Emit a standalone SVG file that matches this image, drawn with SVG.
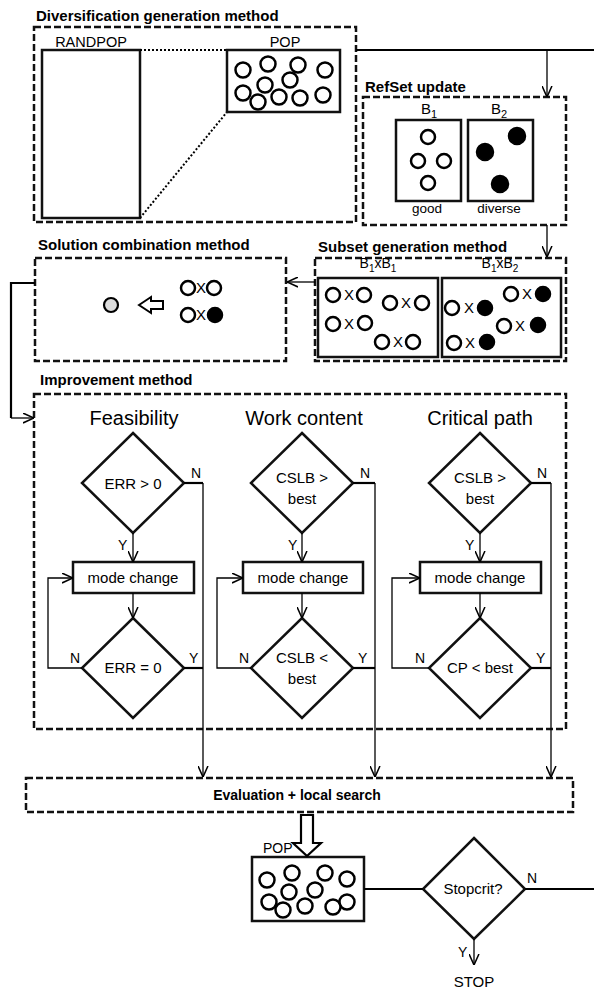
<svg xmlns="http://www.w3.org/2000/svg" width="594" height="990" viewBox="0 0 594 990">
<style>
text{font-family:"Liberation Sans",Arial,sans-serif;fill:#000}
.t{font-weight:bold;font-size:15px}
.dash{fill:none;stroke:#111;stroke-width:2.5;stroke-dasharray:7 3}
.box{fill:#fff;stroke:#111;stroke-width:2.5}
.c{fill:#fff;stroke:#000;stroke-width:2.5}
.f{fill:#000;stroke:#000;stroke-width:1.5}
.ln{fill:none;stroke:#000;stroke-width:1.3}
.lnb{fill:none;stroke:#000;stroke-width:2.2}
.arr{marker-end:url(#ah)}
.lbl{font-size:14px}
.hd{font-size:20px;text-anchor:middle}
.mid{text-anchor:middle}
</style>
<defs>
<marker id="ah" viewBox="0 0 10 10" refX="10" refY="5" markerWidth="11" markerHeight="11" markerUnits="userSpaceOnUse" orient="auto">
<path d="M0,0.5 L10,5 L0,9.5" fill="none" stroke="#000" stroke-width="1.4"/>
</marker>
</defs>

<g id="diversification">
<text class="t" x="36" y="21">Diversification generation method</text>
<rect class="dash" x="34" y="27" width="322" height="195"/>
<text x="91" y="47" font-size="14.5" class="mid">RANDPOP</text>
<rect class="box" x="42" y="50" width="98" height="168" fill="none"/>
<path d="M140,50 L227,50 M140,218 L227,112" fill="none" stroke="#000" stroke-width="2" stroke-dasharray="2 2"/>
<text x="285" y="47" font-size="14.5" class="mid">POP</text>
<rect class="box" x="227" y="50" width="113" height="62"/>
<g>
<circle class="c" cx="243" cy="70" r="7.5"/><circle class="c" cx="268" cy="64" r="7.5"/><circle class="c" cx="298" cy="65" r="7.5"/><circle class="c" cx="325" cy="70" r="7.5"/>
<circle class="c" cx="265" cy="85" r="7.5"/><circle class="c" cx="290" cy="80" r="7.5"/>
<circle class="c" cx="243" cy="93" r="7.5"/><circle class="c" cx="279" cy="97" r="7.5"/><circle class="c" cx="258" cy="102" r="7.5"/><circle class="c" cx="300" cy="98" r="7.5"/><circle class="c" cx="323" cy="95" r="7.5"/>
</g>
</g>

<g id="refset">
<text class="t" x="365" y="92">RefSet update</text>
<rect class="dash" x="363" y="97" width="203" height="128"/>
<text x="421" y="114" font-size="15">B<tspan font-size="11" dy="4">1</tspan></text>
<text x="491" y="114" font-size="15">B<tspan font-size="11" dy="4">2</tspan></text>
<rect class="box" x="396" y="120" width="65" height="81"/>
<rect class="box" x="468" y="120" width="65" height="81"/>
<circle class="c" cx="428" cy="137" r="7"/><circle class="c" cx="418" cy="161" r="7"/><circle class="c" cx="444" cy="161" r="7"/><circle class="c" cx="428" cy="183" r="7"/>
<circle class="f" cx="517" cy="136" r="8.5"/><circle class="f" cx="485" cy="152" r="8.5"/><circle class="f" cx="500" cy="184" r="8.5"/>
<text x="427" y="213" font-size="13.5" class="mid">good</text>
<text x="499" y="213" font-size="13.5" class="mid">diverse</text>
</g>

<g id="subset">
<text class="t" x="318" y="252">Subset generation method</text>
<rect class="dash" x="315" y="258" width="251" height="103"/>
<text x="378" y="268" font-size="14" class="mid">B<tspan font-size="10" dy="4">1</tspan><tspan dy="-4">xB</tspan><tspan font-size="10" dy="4">1</tspan></text>
<text x="500" y="268" font-size="14" class="mid">B<tspan font-size="10" dy="4">1</tspan><tspan dy="-4">xB</tspan><tspan font-size="10" dy="4">2</tspan></text>
<rect class="box" x="318" y="278" width="120" height="79"/>
<rect class="box" x="442" y="278" width="119" height="79"/>
<g font-size="15" class="mid">
<circle class="c" cx="333" cy="295" r="7"/><text x="349" y="300" class="mid">X</text><circle class="c" cx="364" cy="295" r="7"/>
<circle class="c" cx="390" cy="303" r="7"/><text x="406" y="308" class="mid">X</text><circle class="c" cx="422" cy="303" r="7"/>
<circle class="c" cx="333" cy="324" r="7"/><text x="349" y="329" class="mid">X</text><circle class="c" cx="365" cy="323" r="7"/>
<circle class="c" cx="382" cy="342" r="7"/><text x="398" y="347" class="mid">X</text><circle class="c" cx="413" cy="342" r="7"/>
<circle class="c" cx="452" cy="308" r="7"/><text x="469" y="313" class="mid">X</text><circle class="f" cx="485" cy="308" r="7.5"/>
<circle class="c" cx="511" cy="294" r="7"/><text x="527" y="299" class="mid">X</text><circle class="f" cx="543" cy="294" r="7.5"/>
<circle class="c" cx="504" cy="326" r="7"/><text x="520" y="331" class="mid">X</text><circle class="f" cx="538" cy="325" r="7.5"/>
<circle class="c" cx="454" cy="343" r="7"/><text x="470" y="348" class="mid">X</text><circle class="f" cx="487" cy="342" r="7.5"/>
</g>
</g>

<g id="combination">
<text class="t" x="38" y="250">Solution combination method</text>
<rect class="dash" x="35" y="258" width="251" height="103"/>
<circle cx="111" cy="305" r="7" fill="#ddd" stroke="#000" stroke-width="2.2"/>
<path d="M139,305 L151,297 L151,301 L163,301 L163,309 L151,309 L151,313 Z" fill="#fff" stroke="#000" stroke-width="2"/>
<circle class="c" cx="188" cy="288" r="7"/><text x="201" y="293" font-size="15" class="mid">X</text><circle class="c" cx="214" cy="288" r="7"/>
<circle class="c" cx="188" cy="315" r="7"/><text x="201" y="320" font-size="15" class="mid">X</text><circle class="f" cx="215" cy="315" r="7.5"/>
</g>

<g id="improvement">
<text class="t" x="40" y="385">Improvement method</text>
<rect class="dash" x="34" y="394" width="532" height="335"/>
<text x="134" y="425" class="hd">Feasibility</text>
<text x="304" y="425" class="hd">Work content</text>
<text x="480" y="425" class="hd">Critical path</text>
</g>

<g id="feas-d1"><polygon class="box" points="133,433 184,483 133,533 82,483"/><text x="133" y="489" font-size="15" class="mid">ERR &gt; 0</text></g>
<g id="feas-mode"><rect class="box" x="73" y="562" width="121" height="31"/><text x="133" y="583" font-size="15" class="mid">mode change</text></g>
<g id="feas-d2"><polygon class="box" points="133,618 184,668 133,718 82,668"/><text x="133" y="673" font-size="15" class="mid">ERR = 0</text></g>

<g id="work-d1"><polygon class="box" points="302,433 353,483 302,533 251,483"/><text x="302" y="483" font-size="15" class="mid">CSLB &gt;</text><text x="302" y="504" font-size="15" class="mid">best</text></g>
<g id="work-mode"><rect class="box" x="243" y="562" width="120" height="31"/><text x="303" y="583" font-size="15" class="mid">mode change</text></g>
<g id="work-d2"><polygon class="box" points="302,618 353,668 302,718 251,668"/><text x="302" y="663" font-size="15" class="mid">CSLB &lt;</text><text x="302" y="684" font-size="15" class="mid">best</text></g>

<g id="cp-d1"><polygon class="box" points="480,433 531,483 480,533 429,483"/><text x="480" y="483" font-size="15" class="mid">CSLB &gt;</text><text x="480" y="504" font-size="15" class="mid">best</text></g>
<g id="cp-mode"><rect class="box" x="420" y="562" width="121" height="31"/><text x="480" y="583" font-size="15" class="mid">mode change</text></g>
<g id="cp-d2"><polygon class="box" points="480,618 531,668 480,718 429,668"/><text x="480" y="673" font-size="15" class="mid">CP &lt; best</text></g>

<g id="evaluation">
<rect class="dash" x="26" y="778" width="547" height="34"/>
<text x="297" y="800" font-size="14" font-weight="bold" class="mid">Evaluation + local search</text>
</g>

<g id="pop">
<text x="263" y="853" font-size="14">POP</text>
<rect class="box" x="252" y="857" width="112" height="64"/>
<circle class="c" cx="267" cy="880" r="7.5"/><circle class="c" cx="292" cy="873" r="7.5"/><circle class="c" cx="325" cy="873" r="7.5"/><circle class="c" cx="347" cy="879" r="7.5"/>
<circle class="c" cx="289" cy="892" r="7.5"/><circle class="c" cx="315" cy="890" r="7.5"/>
<circle class="c" cx="269" cy="902" r="7.5"/><circle class="c" cx="283" cy="910" r="7.5"/><circle class="c" cx="305" cy="906" r="7.5"/><circle class="c" cx="333" cy="907" r="7.5"/><circle class="c" cx="347" cy="902" r="7.5"/>
</g>

<g id="stopcrit"><polygon class="box" points="474,838 525,889 474,939 423,889"/><text x="473" y="894" font-size="15" class="mid">Stopcrit?</text></g>
<g id="stop"><text x="474" y="987" font-size="15" class="mid">STOP</text></g>

<g id="connectors">
<path class="lnb" d="M356,50 L594,50"/>
<path class="ln arr" d="M547,50 L547,97"/>
<path class="ln arr" d="M547,225 L547,257"/>
<path class="ln arr" d="M315,282 L287,282"/>
<path class="lnb" d="M35,283 L11,283 L11,418"/>
<path class="ln arr" d="M11,418 L34,418"/>

<path class="lnb" d="M184,483 L203,483"/>
<path class="ln arr" d="M203,483 L203,777"/>
<path class="ln arr" d="M133,533 L133,562"/>
<path class="ln arr" d="M133,593 L133,618"/>
<path class="ln arr" d="M82,668 L48,668 L48,578 L73,578"/>
<path class="lnb" d="M184,668 L203,668"/>

<path class="lnb" d="M353,483 L375,483"/>
<path class="ln arr" d="M375,483 L375,777"/>
<path class="ln arr" d="M302,533 L302,562"/>
<path class="ln arr" d="M302,593 L302,618"/>
<path class="ln arr" d="M251,668 L217,668 L217,578 L243,578"/>
<path class="lnb" d="M353,668 L375,668"/>

<path class="lnb" d="M531,483 L551,483"/>
<path class="ln arr" d="M551,483 L551,777"/>
<path class="ln arr" d="M480,533 L480,562"/>
<path class="ln arr" d="M480,593 L480,618"/>
<path class="ln arr" d="M429,668 L392,668 L392,578 L420,578"/>
<path class="lnb" d="M531,668 L551,668"/>

<path d="M301,815 L313,815 L313,843 L321,843 L307,856 L293,843 L301,843 Z" fill="#fff" stroke="#000" stroke-width="2.2"/>
<path class="lnb" d="M364,889 L423,889"/>
<path class="lnb" d="M525,889 L594,889"/>
<path class="ln arr" d="M474,939 L474,965"/>

<g class="lbl">
<text x="191" y="478">N</text><text x="118" y="550">Y</text><text x="70" y="663">N</text><text x="189" y="663">Y</text>
<text x="360" y="478">N</text><text x="288" y="550">Y</text><text x="239" y="663">N</text><text x="358" y="663">Y</text>
<text x="537" y="478">N</text><text x="465" y="550">Y</text><text x="415" y="663">N</text><text x="536" y="663">Y</text>
<text x="527" y="883">N</text><text x="458" y="957">Y</text>
</g>
</g>
</svg>
